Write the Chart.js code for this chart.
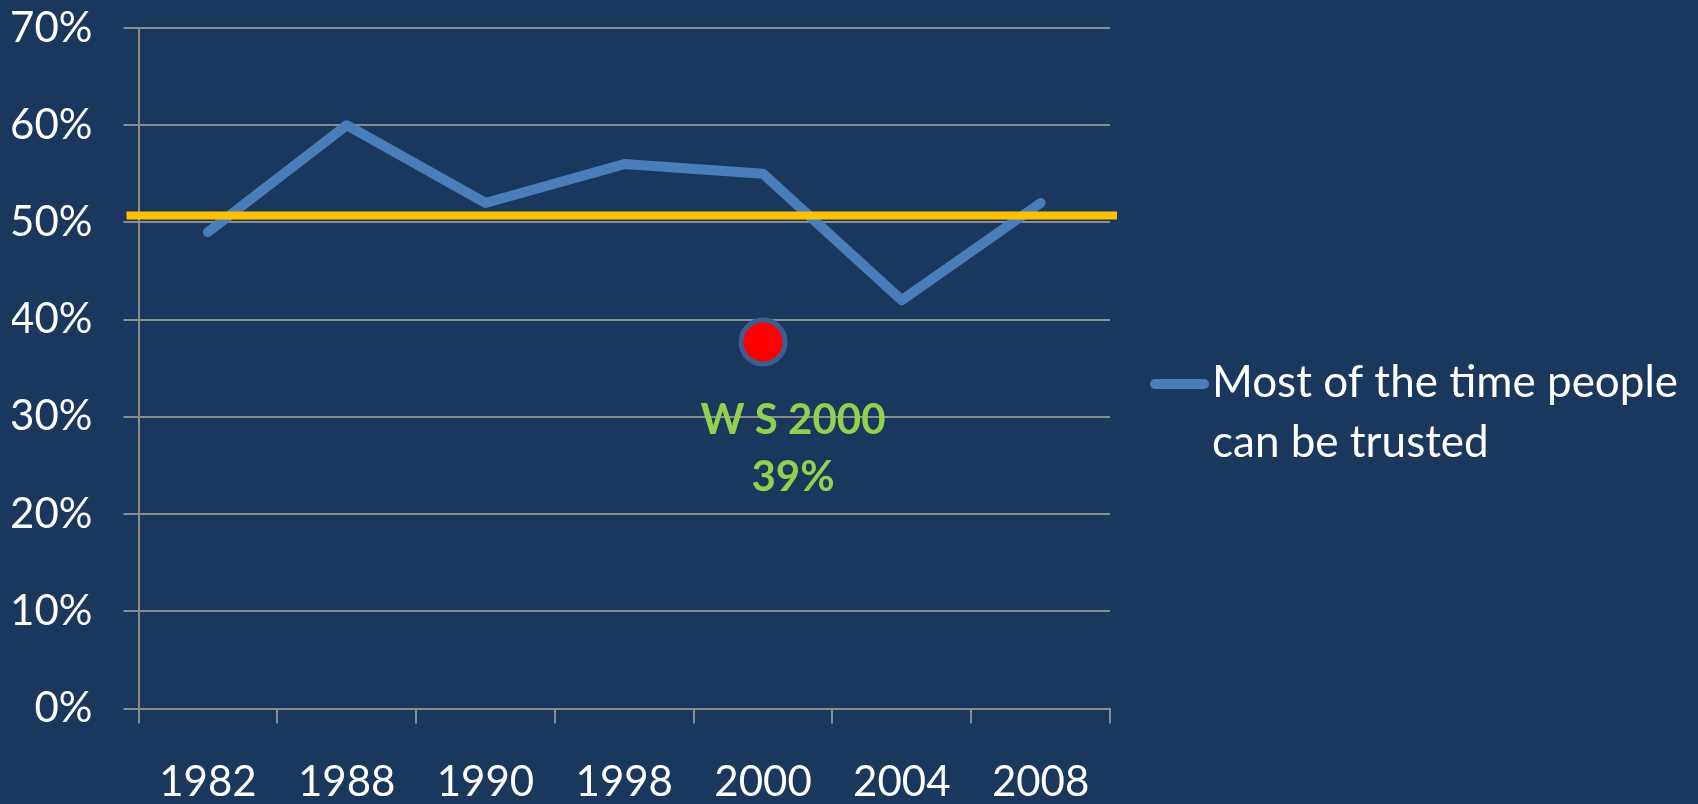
<!DOCTYPE html>
<html>
<head>
<meta charset="utf-8">
<script src="https://cdn.jsdelivr.net/npm/chart.js@4.4.1/dist/chart.umd.min.js"></script>
<style>
  html, body { margin: 0; padding: 0; background: #1a375e; }
  #wrap { width: 1698px; height: 804px; }
</style>
</head>
<body>
<div id="wrap"><canvas id="line-chart" width="1698" height="804"></canvas></div>
<script>
// Data stuff
var years = ['1982', '1988', '1990', '1998', '2000', '2004', '2008'];
var trusted = [49, 60, 52, 56, 55, 42, 52];
var seriesName = 'Most of the time people can be trusted';
var legendLines = ['Most of the time people', 'can be trusted'];
var yTicks = [0, 10, 20, 30, 40, 50, 60, 70];
var refValue = 50.7;               // yellow line
var wsMarker = [null, null, null, null, 37.7, null, null];
var wsLabel = ['W S 2000', '39%'];

var FONT = 'Lato, "Open Sans", sans-serif';
Chart.defaults.color = '#ffffff';
Chart.defaults.font.family = FONT;

// yellow line, drawn over the series
const refLine = {
  id: 'refLine',
  afterDatasetsDraw(chart) {
    const ctx = chart.ctx, a = chart.chartArea;
    const y = chart.scales.y.getPixelForValue(refValue);
    ctx.save();
    ctx.strokeStyle = '#ffc000';
    ctx.lineWidth = 8;
    ctx.beginPath();
    ctx.moveTo(a.left - 12, y);
    ctx.lineTo(a.right + 7, y);
    ctx.stroke();

    // WS label under the red dot
    const px = chart.scales.x.getPixelForValue(4);
    const py = chart.scales.y.getPixelForValue(wsMarker[4]);
    ctx.fillStyle = '#92d050';
    ctx.font = 'bold 42px ' + FONT;
    ctx.textAlign = 'center';
    ctx.textBaseline = 'middle';
    ctx.fillText(wsLabel[0], px + 30, py + 78);
    ctx.fillText(wsLabel[1], px + 30, py + 135);
    ctx.restore();
  }
};

// legend on the right, two lines
const sideLegend = {
  id: 'sideLegend',
  afterDraw(chart) {
    const ctx = chart.ctx;
    const x0 = 1150, y0 = 384;
    ctx.save();
    ctx.strokeStyle = '#4a7ebb';
    ctx.lineWidth = 10;
    ctx.lineCap = 'round';
    ctx.beginPath();
    ctx.moveTo(x0 + 5, y0);
    ctx.lineTo(x0 + 54, y0);
    ctx.stroke();
    ctx.fillStyle = '#ffffff';
    ctx.font = '44px ' + FONT;
    ctx.textAlign = 'left';
    ctx.textBaseline = 'alphabetic';
    for (var i = 0; i < legendLines.length; i++) {
      ctx.fillText(legendLines[i], x0 + 62, 397 + i * 60);
    }
    ctx.restore();
  }
};

const chartthis = new Chart(document.getElementById('line-chart'), {
  type: 'line',
  data: {
    labels: years,
    datasets: [{
      label: seriesName,
      data: trusted,
      borderColor: '#4a7ebb',
      borderWidth: 10,
      borderCapStyle: 'round',
      borderJoinStyle: 'round',
      pointRadius: 0,
      fill: false,
      tension: 0
    }, {
      label: 'WS 2000',
      data: wsMarker,
      showLine: false,
      pointRadius: 22,
      pointBorderWidth: 5,
      pointBackgroundColor: '#ff0000',
      pointBorderColor: '#3d5f8f'
    }]
  },
  options: {
    responsive: false,
    animation: false,
    layout: { padding: { left: 12, right: 588, top: 28, bottom: 0 } },
    plugins: {
      legend: { display: false },
      tooltip: { enabled: false }
    },
    scales: {
      x: {
        offset: true,
        afterFit: function (axis) {
          axis.height = 95.5;
          axis.paddingLeft = 0; axis.paddingRight = 0;
        },
        grid: {
          offset: true,
          drawOnChartArea: false,
          drawTicks: true,
          tickLength: 15,
          color: '#8c8c8c',
          lineWidth: 2
        },
        border: { color: '#8c8c8c', width: 2 },
        ticks: {
          color: '#ffffff',
          padding: 38,
          maxRotation: 0,
          font: { size: 42, lineHeight: 1.0 }
        }
      },
      y: {
        min: 0,
        max: 70,
        afterBuildTicks: function (axis) {
          axis.ticks = yTicks.map(function (v) { return { value: v }; });
        },
        afterFit: function (axis) {
          axis.width = 126.5;
          axis.paddingTop = 0; axis.paddingBottom = 0;
        },
        grid: {
          color: '#8c8c8c',
          lineWidth: 2,
          tickLength: 15
        },
        border: { color: '#8c8c8c', width: 2 },
        ticks: {
          color: '#ffffff',
          padding: 31,
          font: { size: 42, lineHeight: 1.0 },
          callback: function (v) { return v + '%'; }
        }
      }
    }
  },
  plugins: [refLine, sideLegend]
});
</script>
</body>
</html>
